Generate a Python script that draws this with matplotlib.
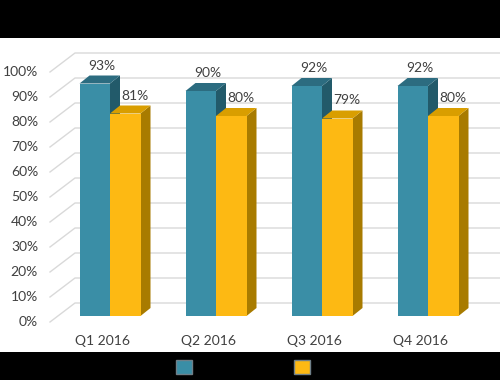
import matplotlib
matplotlib.use("Agg")
import matplotlib.pyplot as plt
from matplotlib.patches import Polygon, Rectangle, Patch
from matplotlib.transforms import offset_copy

quarters = ["Q1 2016", "Q2 2016", "Q3 2016", "Q4 2016"]
series_a = [93, 90, 92, 92]
series_b = [81, 80, 79, 80]
y_ticks = list(range(0, 101, 10))

TEAL = ("#3a8ea6", "#2c6c80", "#225a6a")      # front, top, side
GOLD = ("#fdb913", "#d99e00", "#a87b00")
GRID = "#d9d9d9"
TXT = "#404040"

plt.rcParams["font.family"] = ["Lato", "DejaVu Sans"]

fig = plt.figure(figsize=(5, 3.8), dpi=100)
ax = fig.add_axes([0, 0, 1, 1])
# data space: one category per unit, 1% = 2.5 px
PX_X, PX_Y = 106.0, 2.5
ax.set_xlim(-110 / PX_X, 390 / PX_X)
ax.set_ylim(-64 / PX_Y, 316 / PX_Y)
ax.axis("off")


def dx(px):
    return px / PX_X


def dy(px):
    return px / PX_Y


# depth offsets relative to the plane of the bar fronts (pixels: +x right, +y up)
wall_front = (dx(-8), dy(-6))
wall_back = (dx(17), dy(13))
bar_depth = (dx(10), dy(8))
x_wall = dx(58 - 110)
x_right = ax.get_xlim()[1]

# gridlines: side wall diagonals + back wall
for v in y_ticks:
    fx, fy = x_wall + wall_front[0], v + wall_front[1]
    bx, by = x_wall + wall_back[0], v + wall_back[1]
    ax.plot([fx, bx, x_right], [fy, by, by], color=GRID, lw=1, zorder=1)
    ax.text(fx, fy, f"{v}%", ha="right", va="center", fontsize=10, color=TXT,
            transform=offset_copy(ax.transData, fig, x=-12, y=0, units="dots"))

W = 30.5 / PX_X


def bar3d(x0, v, colors, label_dx):
    front, top, side = colors
    x1 = x0 + W
    ddx, ddy = bar_depth
    ax.add_patch(Polygon([(x1, 0), (x1, v), (x1 + ddx, v + ddy), (x1 + ddx, ddy)],
                         closed=True, facecolor=side, edgecolor="none", zorder=3))
    ax.add_patch(Polygon([(x0, v), (x1, v), (x1 + ddx, v + ddy), (x0 + ddx, v + ddy)],
                         closed=True, facecolor=top, edgecolor="none", zorder=3))
    ax.bar(x0, v, W, align="edge", color=front, zorder=3)
    ax.text(x0 + W / 2, v + ddy, f"{v}%", ha="center", va="bottom",
            fontsize=10, color=TXT, zorder=5,
            transform=offset_copy(ax.transData, fig, x=label_dx, y=4, units="dots"))


for i, (a, b) in enumerate(zip(series_a, series_b)):
    bar3d(i - W, a, TEAL, 7)
    bar3d(i, b, GOLD, 10)
    ax.text(i + wall_front[0], wall_front[1], quarters[i], ha="center", va="center",
            fontsize=10, color=TXT,
            transform=offset_copy(ax.transData, fig, x=0, y=-19, units="dots"))

# black video bands
fig.patches.append(Rectangle((0, 1 - 38 / 380), 1, 38 / 380, transform=fig.transFigure,
                             facecolor="black", edgecolor="none"))
fig.patches.append(Rectangle((0, 0), 1, 28 / 380, transform=fig.transFigure,
                             facecolor="black", edgecolor="none"))

handles = [Patch(facecolor=TEAL[0], edgecolor="#6f7f88", lw=1),
           Patch(facecolor=GOLD[0], edgecolor="#6f7f88", lw=1)]
fig.legend(handles, ["", ""], ncol=2, loc="center", bbox_to_anchor=(243 / 500, 13 / 380),
           frameon=False, fontsize=10, handlelength=1.15, handleheight=1.15,
           handletextpad=0, columnspacing=7.34, borderpad=0)

fig.savefig("out.png", dpi=100)
